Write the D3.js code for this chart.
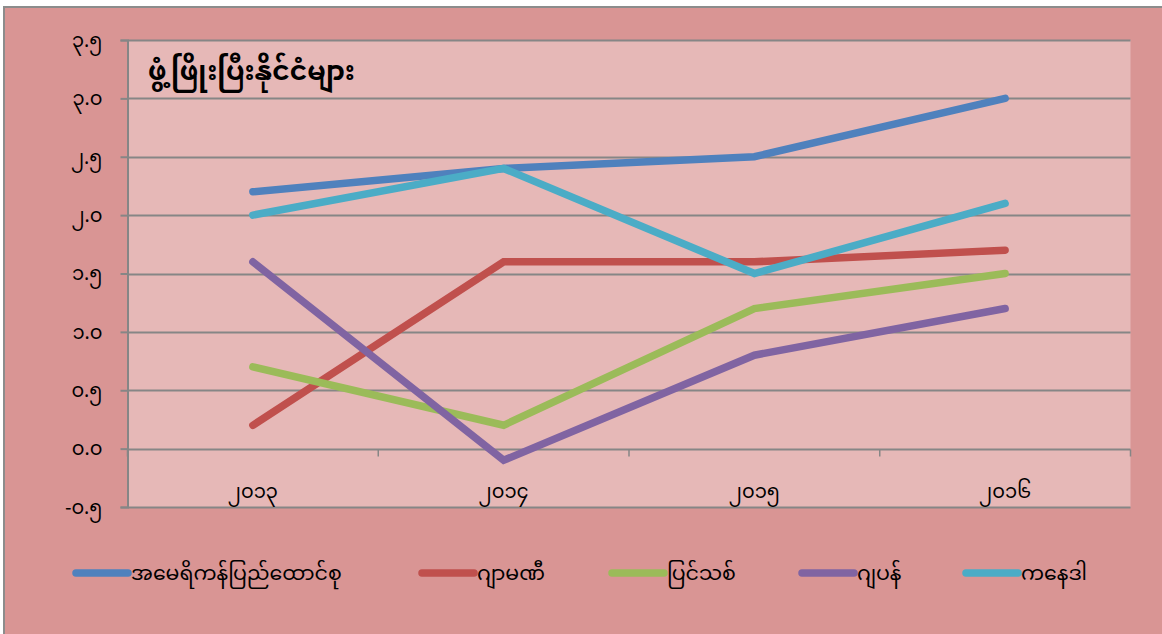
<!DOCTYPE html>
<html>
<head>
<meta charset="utf-8">
<script src="https://cdn.jsdelivr.net/npm/d3@7"></script>
<style>
  html, body { margin: 0; padding: 0; background: #ffffff; }
  svg { display: block; }
  text { font-family: "Noto Sans Myanmar", "Padauk", "Myanmar Text", "Noto Sans", sans-serif; fill: #000; }
</style>
</head>
<body>
<svg id="chart" width="1162" height="634"></svg>
<script>
const years = ["၂၀၁၃", "၂၀၁၄", "၂၀၁၅", "၂၀၁၆"];
const seriesNames = ["အမေရိကန်ပြည်ထောင်စု", "ဂျာမဏီ", "ပြင်သစ်", "ဂျပန်", "ကနေဒါ"];
const usa     = [2.2, 2.4, 2.5, 3.0];
const germany = [0.2, 1.6, 1.6, 1.7];
const france  = [0.7, 0.2, 1.2, 1.5];
const japan   = [1.6, -0.1, 0.8, 1.2];
const canada  = [2.0, 2.4, 1.5, 2.1];
const yTicks = [-0.5, 0.0, 0.5, 1.0, 1.5, 2.0, 2.5, 3.0, 3.5];
const colors = ["#4F81BD", "#C0504D", "#9BBB59", "#8064A2", "#4BACC6"];
const title = "ဖွံ့ဖြိုးပြီးနိုင်ငံများ";

(function () {
const seriesValues = [usa, germany, france, japan, canada];
const mmDigits = "၀၁၂၃၄၅၆၇၈၉";
const toMM = s => s.replace(/[0-9]/g, d => mmDigits[+d]);

const svg = d3.select("#chart");
const W = 1162, H = 634;

// outer chart area
svg.append("rect").attr("x", 4).attr("y", 7).attr("width", W).attr("height", H)
  .attr("fill", "#D99594").attr("stroke", "#8C8C8C").attr("stroke-width", 2);

const pL = 127.5, pR = 1130.5, pT = 40, pB = 507;
const x = d3.scaleBand().domain(years).range([pL, pR]).padding(0);
const y = d3.scaleLinear().domain([-0.5, 3.5]).range([pB, pT]);

// plot area
svg.append("rect").attr("x", pL).attr("y", pT).attr("width", pR - pL).attr("height", pB - pT)
  .attr("fill", "#E6B8B7");

// gridlines
svg.append("g").selectAll("line").data(yTicks).join("line")
  .attr("x1", pL).attr("x2", pR)
  .attr("y1", d => Math.round(y(d)) + 0.5).attr("y2", d => Math.round(y(d)) + 0.5)
  .attr("stroke", "#868686").attr("stroke-width", 2);

// y axis
const yAxis = d3.axisLeft(y).tickValues(yTicks).tickSize(7).tickPadding(18)
  .tickFormat(d => toMM(d3.format(".1f")(d)));
const gy = svg.append("g").attr("transform", `translate(${pL},0)`).call(yAxis);
gy.select(".domain").attr("stroke", "#868686").attr("stroke-width", 2);
gy.selectAll(".tick line").attr("stroke", "#868686").attr("stroke-width", 2);
gy.selectAll(".tick text").attr("font-size", 19.5).attr("fill", "#000")
  .style("font-family", '"Noto Sans Myanmar", "Padauk", "Noto Sans", sans-serif');

// x axis at y = 0
const y0 = Math.round(y(0)) + 0.5;
const boundaries = years.map(d => x(d)).concat([pR]);
svg.append("g").selectAll("line").data(boundaries).join("line")
  .attr("x1", d => d).attr("x2", d => d).attr("y1", y0).attr("y2", y0 + 7)
  .attr("stroke", "#868686").attr("stroke-width", 1.5);
svg.append("g").selectAll("text").data(years).join("text")
  .attr("x", d => x(d) + x.bandwidth() / 2).attr("y", 498)
  .attr("text-anchor", "middle").attr("font-size", 19.5).text(d => d);

// lines
const line = d3.line().x((d, i) => x(years[i]) + x.bandwidth() / 2).y(d => y(d));
svg.append("g").selectAll("path").data(seriesValues).join("path")
  .attr("d", d => line(d)).attr("fill", "none")
  .attr("stroke", (d, i) => colors[i]).attr("stroke-width", 7.5)
  .attr("stroke-linecap", "round").attr("stroke-linejoin", "miter");

// title
svg.append("text").attr("x", 148).attr("y", 80).attr("font-size", 26.5).attr("font-weight", "bold")
  .text(title);

// legend
const legendX = [76, 422, 612, 802, 966];
const lg = svg.append("g").selectAll("g").data(seriesNames).join("g")
  .attr("transform", (d, i) => `translate(${legendX[i]},573)`);
lg.append("line").attr("x1", 0).attr("x2", 52).attr("y1", 0).attr("y2", 0)
  .attr("stroke", (d, i) => colors[i]).attr("stroke-width", 7.5).attr("stroke-linecap", "round");
lg.append("text").attr("x", 55).attr("y", 7).attr("font-size", 20.5).text(d => d);
})();
</script>
</body>
</html>
